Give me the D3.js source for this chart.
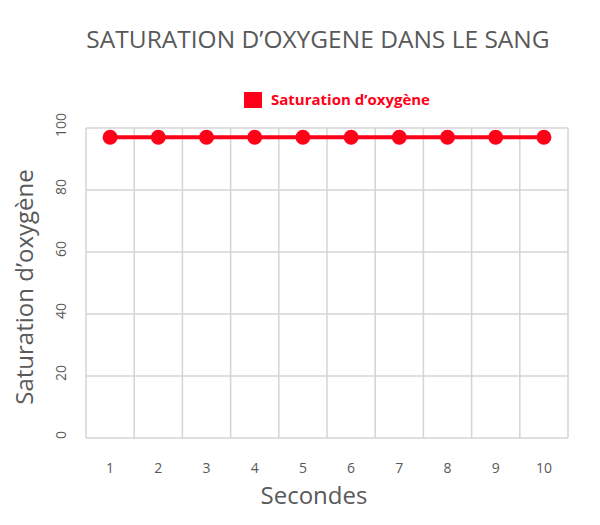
<!DOCTYPE html>
<html>
<head>
<meta charset="utf-8">
<script src="https://cdn.jsdelivr.net/npm/d3@7"></script>
<style>
  body { margin: 0; background: #fff; }
  text { font-family: "Open Sans", sans-serif; }
</style>
</head>
<body>
<svg id="chart"></svg>
<script>
const seconds = [1, 2, 3, 4, 5, 6, 7, 8, 9, 10];
const saturation = [97, 97, 97, 97, 97, 97, 97, 97, 97, 97];
const yTicks = [0, 20, 40, 60, 80, 100];
const seriesName = "Saturation d\u2019oxygène";

const width = 600, height = 525;
const margin = {top: 128, right: 32, bottom: 87, left: 86};
const innerW = width - margin.left - margin.right;
const innerH = height - margin.top - margin.bottom;
const red = "#ff0018";
const gridColor = "#d4d4d4";

const svg = d3.select('#chart').attr('width', width).attr('height', height);

svg.append('text')
  .attr('x', 318).attr('y', 48)
  .attr('text-anchor', 'middle')
  .attr('fill', '#595959')
  .attr('font-size', '24.5px')
  .text("SATURATION D\u2019OXYGENE DANS LE SANG");

// legend
svg.append('rect')
  .attr('x', 244).attr('y', 92).attr('width', 18).attr('height', 16)
  .attr('fill', red);
svg.append('text')
  .attr('x', 271).attr('y', 105)
  .attr('fill', red)
  .attr('font-size', '15px')
  .attr('font-weight', 'bold')
  .text(seriesName);

const g = svg.append('g').attr('transform', `translate(${margin.left},${margin.top})`);

const x = d3.scaleBand().domain(seconds).range([0, innerW]);
const y = d3.scaleLinear().domain([0, 100]).range([innerH, 0]);

// grid
g.selectAll('.hgrid').data(yTicks).enter().append('line')
  .attr('x1', 0).attr('x2', innerW)
  .attr('y1', d => y(d)).attr('y2', d => y(d))
  .attr('stroke', gridColor).attr('stroke-width', 1.5);

const vEdges = seconds.map(d => x(d)).concat([innerW]);
g.selectAll('.vgrid').data(vEdges).enter().append('line')
  .attr('x1', d => d).attr('x2', d => d)
  .attr('y1', 0).attr('y2', innerH)
  .attr('stroke', gridColor).attr('stroke-width', 1.5);

// y tick labels, rotated
g.selectAll('.ylab').data(yTicks).enter().append('text')
  .attr('transform', d => `translate(-26, ${y(d) - 3}) rotate(-90)`)
  .attr('text-anchor', 'middle')
  .attr('dominant-baseline', 'central')
  .attr('fill', '#595959')
  .attr('font-size', '14px')
  .text(d => d);

// x tick labels
g.selectAll('.xlab').data(seconds).enter().append('text')
  .attr('x', d => x(d) + x.bandwidth() / 2)
  .attr('y', innerH + 35)
  .attr('text-anchor', 'middle')
  .attr('fill', '#595959')
  .attr('font-size', '14px')
  .text(d => d);

// axis titles
svg.append('text')
  .attr('x', 314).attr('y', 504)
  .attr('text-anchor', 'middle')
  .attr('fill', '#595959')
  .attr('font-size', '24px')
  .text("Secondes");

svg.append('text')
  .attr('transform', `translate(33, 287) rotate(-90)`)
  .attr('text-anchor', 'middle')
  .attr('fill', '#595959')
  .attr('font-size', '24px')
  .text(seriesName);

// series
const pts = seconds.map((s, i) => ({s, v: saturation[i]}));
const line = d3.line()
  .x(d => x(d.s) + x.bandwidth() / 2)
  .y(d => y(d.v));

g.append('path')
  .datum(pts)
  .attr('d', line)
  .attr('fill', 'none')
  .attr('stroke', red)
  .attr('stroke-width', 4);

g.selectAll('.dot').data(pts).enter().append('circle')
  .attr('cx', d => x(d.s) + x.bandwidth() / 2)
  .attr('cy', d => y(d.v))
  .attr('r', 7.5)
  .attr('fill', red);
</script>
</body>
</html>
